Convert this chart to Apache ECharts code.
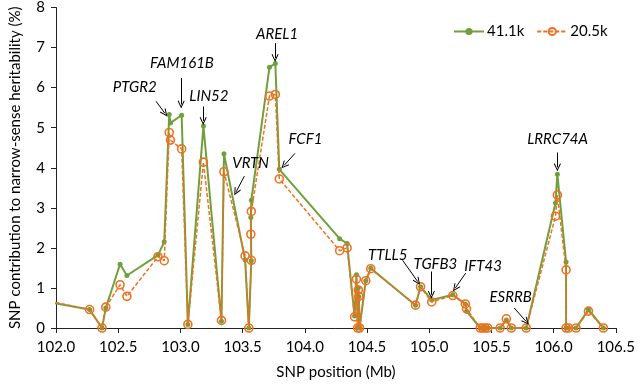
<!DOCTYPE html>
<html>
<head>
<meta charset="utf-8">
<script src="https://cdn.jsdelivr.net/npm/echarts@6/dist/echarts.min.js"></script>
<style>
  html, body { margin: 0; padding: 0; background: #fff; }
  #chart { width: 638px; height: 385px; }
</style>
</head>
<body>
<div id="chart"></div>
<script>
// SNP positions (Mb) shared by both series
const positions = [101.95, 102.27, 102.37, 102.40, 102.515, 102.57, 102.82, 102.87, 102.91, 102.92,
  103.01, 103.06, 103.185, 103.33, 103.35, 103.52, 103.55, 103.57, 103.566, 103.57,
  103.716, 103.763, 103.795, 104.28, 104.34, 104.40, 104.415, 104.425, 104.43, 104.435,
  104.44, 104.49, 104.53, 104.89, 104.93, 105.02, 105.19, 105.29, 105.30, 105.41,
  105.43, 105.45, 105.47, 105.57, 105.62, 105.66, 105.78, 106.015, 106.03, 106.10,
  106.10, 106.12, 106.18, 106.28, 106.40];
const green41k = [0.64, 0.46, 0, 0.50, 1.59, 1.31, 1.82, 2.15, 5.33, 5.12,
  5.31, 0.09, 5.04, 0.17, 4.35, 1.70, 0, 1.68, 2.76, 3.19,
  6.51, 6.60, 3.96, 2.23, 2.11, 0.30, 1.33, 0, 1.00, 0.78,
  0, 1.18, 1.49, 0.57, 1.03, 0.70, 0.83, 0.60, 0.42, 0,
  0, 0, 0, 0, 0.20, 0, 0, 3.12, 3.84, 1.65,
  0, 0, 0, 0.46, 0];
const orange20k = [0.67, 0.46, 0, 0.52, 1.08, 0.79, 1.78, 1.68, 4.88, 4.69,
  4.47, 0.09, 4.14, 0.19, 3.90, 1.80, 0, 1.69, 2.34, 2.91,
  5.79, 5.83, 3.72, 1.93, 2.00, 0.28, 1.22, 0, 0.95, 0.79,
  0, 1.18, 1.48, 0.57, 1.03, 0.65, 0.81, 0.60, 0.48, 0,
  0, 0, 0, 0, 0.23, 0, 0, 2.79, 3.32, 1.45,
  0, 0, 0, 0.42, 0];
const xTicks = [102.0, 102.5, 103.0, 103.5, 104.0, 104.5, 105.0, 105.5, 106.0, 106.5];

// gene labels: [name, label x, label y, arrow from x, y, arrow to x, y]
const genes = [
  ['PTGR2', 102.633, 6.02, 102.804, 5.66, 102.875, 5.36],
  ['FAM161B', 103.012, 6.60, 103.006, 6.24, 103.006, 5.58],
  ['LIN52', 103.229, 5.78, 103.183, 5.53, 103.183, 5.17],
  ['VRTN', 103.564, 4.12, 103.514, 3.79, 103.448, 3.40],
  ['AREL1', 103.777, 7.34, 103.761, 7.11, 103.761, 6.74],
  ['FCF1', 104.005, 4.71, 103.921, 4.36, 103.834, 4.06],
  ['TTLL5', 104.666, 1.83, 104.786, 1.69, 104.907, 1.16],
  ['TGFB3', 105.050, 1.59, 105.017, 1.41, 105.017, 0.83],
  ['IFT43', 105.433, 1.55, 105.293, 1.37, 105.210, 1.00],
  ['ESRRB', 105.654, 0.77, 105.683, 0.50, 105.780, 0.16],
  ['LRRC74A', 106.032, 4.71, 106.030, 4.38, 106.030, 4.01]
];

const GREEN = '#70A03C';
const ORANGE = '#F07020';
const FONT = 'Lato';
const arrowHead = 'path://M5,0 L10,10 L8.8,10.8 L5,3 L1.2,10.8 L0,10 Z';

let option = {
    backgroundColor: '#fff',
    animation: false,
    textStyle: {fontFamily: FONT},
    grid: {left: 51, right: 18, top: 6, bottom: 55},
    legend: {
        data: ['41.1k', '20.5k'],
        left: 448,
        top: 19,
        itemWidth: 30,
        itemHeight: 9,
        itemGap: 12,
        textStyle: {fontFamily: FONT, fontSize: 15, color: '#000', padding: [0, 0, 0, -2]}
    },
    xAxis: {
        type: 'value',
        min: 102,
        max: 106.5,
        interval: 0.5,
        name: 'SNP position (Mb)',
        nameLocation: 'middle',
        nameGap: 37,
        nameTextStyle: {fontFamily: FONT, fontSize: 15, color: '#000'},
        axisLine: {show: true, lineStyle: {color: '#222', width: 1}},
        axisTick: {show: true, inside: false, length: 5, lineStyle: {color: '#222'}},
        axisLabel: {
            margin: 12, fontSize: 15, color: '#000', fontFamily: FONT,
            formatter: v => xTicks.includes(+v.toFixed(1)) ? v.toFixed(1) : ''
        },
        splitLine: {show: false}
    },
    yAxis: {
        type: 'value',
        min: 0,
        max: 8,
        interval: 1,
        name: 'SNP contribution to narrow-sense heritability (%)',
        nameLocation: 'middle',
        nameGap: 33,
        nameTextStyle: {fontFamily: FONT, fontSize: 15, color: '#000'},
        axisLine: {show: true, lineStyle: {color: '#222', width: 1}},
        axisTick: {show: true, inside: false, length: 5, lineStyle: {color: '#222'}},
        axisLabel: {margin: 11, fontSize: 15, color: '#000', fontFamily: FONT},
        splitLine: {show: false}
    },
    series: [
        {
            name: '41.1k',
            type: 'line',
            data: positions.map((x, i) => [x, green41k[i]]),
            symbol: 'circle',
            symbolSize: 5,
            showAllSymbol: true,
            itemStyle: {color: GREEN},
            lineStyle: {color: GREEN, width: 2},
            clip: true,
            z: 2
        },
        {
            name: '20.5k',
            type: 'line',
            data: positions.map((x, i) => [x, orange20k[i]]),
            symbol: 'circle',
            symbolSize: 8,
            showAllSymbol: true,
            itemStyle: {color: 'rgba(255,255,255,0)', borderColor: ORANGE, borderWidth: 1.6},
            lineStyle: {color: ORANGE, width: 1.5, type: [4, 2]},
            clip: true,
            z: 3
        },
        {
            name: 'genes',
            type: 'line',
            data: [],
            silent: true,
            markLine: {
                silent: true,
                animation: false,
                symbol: ['none', arrowHead],
                symbolSize: [7, 8],
                label: {show: false},
                lineStyle: {color: '#000', width: 1, type: 'solid'},
                emphasis: {disabled: true},
                data: genes.map(g => [
                    {coord: [g[3], g[4]]},
                    {coord: [g[5], g[6]]}
                ])
            },
            markPoint: {
                silent: true,
                animation: false,
                symbol: 'circle',
                symbolSize: 0,
                itemStyle: {color: 'transparent'},
                label: {
                    show: true,
                    position: 'inside',
                    formatter: p => p.name,
                    fontStyle: 'italic',
                    fontSize: 15,
                    color: '#000',
                    fontFamily: FONT
                },
                data: genes.map(g => ({name: g[0], coord: [g[1], g[2]]}))
            }
        }
    ]
};

let myChart = echarts.init(document.getElementById('chart'));
myChart.setOption(option);
</script>
</body>
</html>
